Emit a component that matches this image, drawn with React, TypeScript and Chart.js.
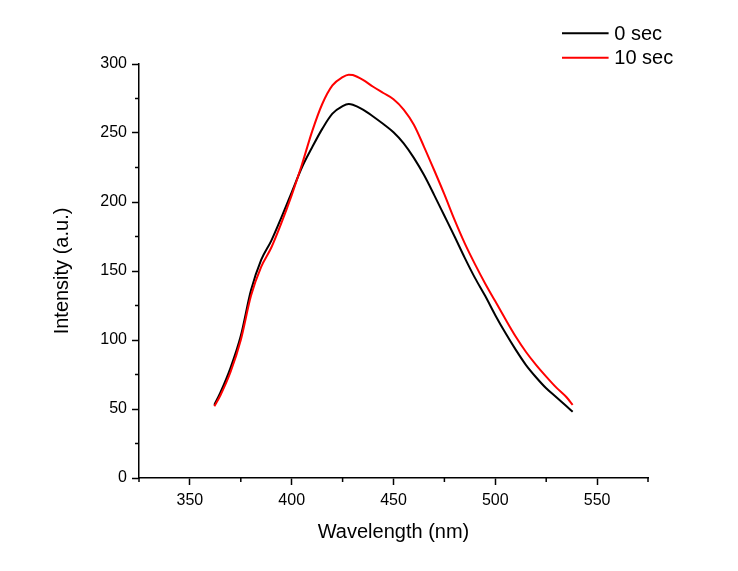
import React, { useEffect, useRef } from "react";
import { Chart, registerables } from "chart.js";

Chart.register(...registerables);

const wavelengths = [362, 365, 370, 375, 380, 385, 390, 395, 400, 405, 410, 415, 420, 425, 428, 430, 435, 440, 445, 450, 455, 460, 465, 470, 475, 480, 485, 490, 495, 500, 505, 510, 515, 520, 525, 530, 535, 538];
const sec0 = [53, 62, 80, 103, 136, 158, 172, 189, 207, 225, 239.5, 253, 264, 269.5, 271, 270.5, 267, 262, 256.5, 250.5, 242.5, 232, 219.5, 205, 190, 175, 159.5, 145, 132, 118, 105, 93, 82, 73, 65, 58.5, 52, 48];
const sec10 = [52, 60, 77, 100, 132, 153, 167, 185, 205, 227, 251, 271, 284.5, 290.5, 292.3, 292, 288.5, 283.5, 279, 274.5, 267, 256, 240, 223, 205.5, 187, 170, 155, 141, 128, 115, 102.5, 91.5, 82, 73.5, 65.5, 58.5, 53];

const seriesLabels = ["0 sec", "10 sec"];
const seriesColors = ["#000000", "#ff0000"];

const xMajorTicks = [350, 400, 450, 500, 550];
const xMinorTicks = [325, 375, 425, 475, 525, 575];
const yMajorTicks = [0, 50, 100, 150, 200, 250, 300];
const yMinorTicks = [25, 75, 125, 175, 225, 275];

const xTitle = "Wavelength (nm)";
const yTitle = "Intensity (a.u.)";

const FONT = "'Liberation Sans', Arial, Helvetica, sans-serif";

const extrasPlugin = {
  id: "extras",
  afterDraw(chart: any) {
    const { ctx, scales, chartArea } = chart;
    const x = scales.x;
    const y = scales.y;
    ctx.save();
    ctx.strokeStyle = "#000";
    ctx.lineWidth = 1.5;
    xMinorTicks.forEach((v) => {
      const px = x.getPixelForValue(v);
      ctx.beginPath();
      ctx.moveTo(px, chartArea.bottom);
      ctx.lineTo(px, chartArea.bottom + 4);
      ctx.stroke();
    });
    yMinorTicks.forEach((v) => {
      const py = y.getPixelForValue(v);
      ctx.beginPath();
      ctx.moveTo(chartArea.left, py);
      ctx.lineTo(chartArea.left - 4, py);
      ctx.stroke();
    });
    // legend
    const lx = chartArea.right - 86;
    const ly = chartArea.top - 30.7;
    const gap = 24.4;
    ctx.font = `20px ${FONT}`;
    ctx.textBaseline = "middle";
    ctx.textAlign = "left";
    seriesLabels.forEach((lab, i) => {
      const yy = ly + i * gap;
      ctx.strokeStyle = seriesColors[i];
      ctx.lineWidth = 2;
      ctx.beginPath();
      ctx.moveTo(lx, yy);
      ctx.lineTo(lx + 46.6, yy);
      ctx.stroke();
      ctx.fillStyle = "#000";
      ctx.fillText(lab, lx + 52.3, yy + 1);
    });
    ctx.restore();
  },
};

export default function App() {
  const ref = useRef<HTMLCanvasElement>(null);
  useEffect(() => {
    if (!ref.current) return;
    const seriesValues = [sec0, sec10];
    const chart = new Chart(ref.current, {
      type: "line",
      data: {
        datasets: seriesLabels.map((lab, i) => ({
          label: lab,
          data: wavelengths.map((w, j) => ({ x: w, y: seriesValues[i][j] })),
          borderColor: seriesColors[i],
          backgroundColor: seriesColors[i],
          borderWidth: 2,
          pointRadius: 0,
          fill: false,
          cubicInterpolationMode: "monotone" as const,
          order: seriesLabels.length - i,
        })),
      },
      options: {
        responsive: false,
        animation: false,
        layout: { padding: { left: 0, top: 56, right: 82, bottom: 0 } },
        plugins: { legend: { display: false }, tooltip: { enabled: false } },
        scales: {
          x: {
            type: "linear",
            min: 325,
            max: 575,
            afterBuildTicks: (s: any) => {
              s.ticks = xMajorTicks.map((v) => ({ value: v }));
            },
            afterFit: (s: any) => {
              s.height = 85;
            },
            grid: { display: true, drawOnChartArea: false, drawTicks: true, tickLength: 7, tickColor: "#000", tickWidth: 1.5 },
            border: { display: true, color: "#000", width: 1.5 },
            ticks: { color: "#000", font: { family: FONT, size: 16 }, padding: 6, maxRotation: 0, autoSkip: false },
            title: { display: true, text: xTitle, color: "#000", font: { family: FONT, size: 20 }, padding: { top: 0, bottom: 19 } },
          },
          y: {
            type: "linear",
            min: 0,
            max: 300,
            afterBuildTicks: (s: any) => {
              s.ticks = yMajorTicks.map((v) => ({ value: v }));
            },
            afterFit: (s: any) => {
              s.width = 131;
            },
            grid: { display: true, drawOnChartArea: false, drawTicks: true, tickLength: 7, tickColor: "#000", tickWidth: 1.5 },
            border: { display: true, color: "#000", width: 1.5 },
            ticks: { color: "#000", font: { family: FONT, size: 16 }, padding: 5, autoSkip: false },
            title: { display: true, text: yTitle, color: "#000", font: { family: FONT, size: 20 }, padding: { top: 42, bottom: 0 } },
          },
        },
      },
      plugins: [extrasPlugin],
    });
    return () => chart.destroy();
  }, []);
  return (
    <div>
      <canvas ref={ref} width={722} height={555} style={{ display: "block" }} />
    </div>
  );
}
